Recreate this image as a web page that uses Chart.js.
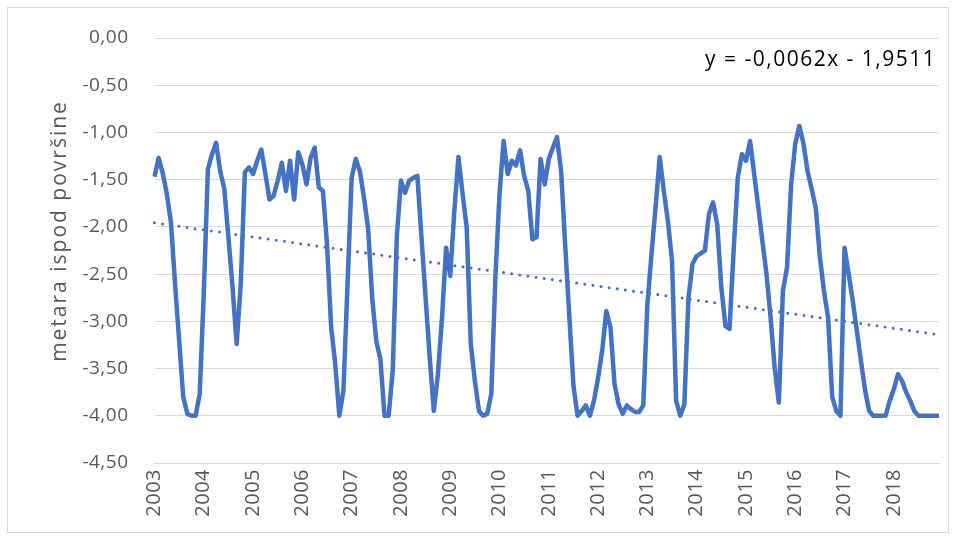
<!DOCTYPE html>
<html>
<head>
<meta charset="utf-8">
<script src="https://cdn.jsdelivr.net/npm/chart.js@4"></script>
<style>
  html, body { margin: 0; padding: 0; background: #fff; }
  canvas { display: block; }
</style>
</head>
<body>
<canvas id="chart" width="956" height="540"></canvas>
<script>
// Groundwater level, monthly readings 2003-2018 (metres below surface)
const years = ['2003', '2004', '2005', '2006', '2007', '2008', '2009', '2010',
  '2011', '2012', '2013', '2014', '2015', '2016', '2017', '2018'];

const levels = [
  -1.47, -1.27, -1.43, -1.65, -1.95, -2.60, -3.20, -3.80, -3.98, -4.00, -4.00, -3.77, // 2003
  -2.70, -1.39, -1.23, -1.11, -1.41, -1.60, -2.11, -2.64, -3.24, -2.60, -1.42, -1.37, // 2004
  -1.44, -1.30, -1.18, -1.44, -1.71, -1.67, -1.51, -1.32, -1.62, -1.30, -1.71, -1.21, // 2005
  -1.34, -1.55, -1.27, -1.16, -1.58, -1.62, -2.18, -3.06, -3.45, -4.00, -3.73, -2.60, // 2006
  -1.48, -1.28, -1.41, -1.69, -2.01, -2.75, -3.21, -3.40, -4.00, -4.00, -3.52, -2.10, // 2007
  -1.51, -1.64, -1.51, -1.48, -1.46, -2.11, -2.75, -3.38, -3.95, -3.56, -2.96, -2.22, // 2008
  -2.52, -1.83, -1.26, -1.65, -2.00, -3.24, -3.63, -3.95, -4.00, -3.98, -3.77, -2.53, // 2009
  -1.65, -1.09, -1.44, -1.30, -1.35, -1.19, -1.46, -1.62, -2.13, -2.11, -1.28, -1.55, // 2010
  -1.28, -1.16, -1.05, -1.41, -2.20, -2.95, -3.68, -4.00, -3.95, -3.89, -4.00, -3.84, // 2011
  -3.60, -3.31, -2.89, -3.06, -3.66, -3.88, -3.98, -3.89, -3.93, -3.96, -3.96, -3.89, // 2012
  -2.82, -2.29, -1.79, -1.26, -1.62, -1.94, -2.36, -3.84, -4.00, -3.88, -2.75, -2.39, // 2013
  -2.31, -2.28, -2.25, -1.86, -1.74, -1.97, -2.64, -3.05, -3.08, -2.25, -1.48, -1.23, // 2014
  -1.30, -1.09, -1.44, -1.79, -2.15, -2.50, -2.96, -3.50, -3.86, -2.68, -2.43, -1.55, // 2015
  -1.12, -0.93, -1.12, -1.41, -1.60, -1.80, -2.32, -2.68, -2.96, -3.80, -3.95, -4.00, // 2016
  -2.22, -2.50, -2.78, -3.10, -3.42, -3.73, -3.95, -4.00, -4.00, -4.00, -4.00, -3.84, // 2017
  -3.72, -3.56, -3.63, -3.75, -3.84, -3.95, -4.00, -4.00, -4.00, -4.00, -4.00, -4.00  // 2018
];

// linear trend y = a*x + b, x = 1..n
const trendSlope = -0.0062;
const trendIntercept = -1.9511;

const labels = [];
years.forEach(y => {
  for (let m = 1; m <= 12; m++) labels.push(y + '-' + String(m).padStart(2, '0'));
});
const trend = levels.map((_, i) => trendSlope * (i + 1) + trendIntercept);

const fmt = v => v.toFixed(2).replace('.', ',');
const textColor = '#595959';
const blue = '#4472C4';

// letter spacing for tick text, axis title, trend equation and chart border
const extras = {
  id: 'extras',
  beforeDraw(chart) {
    chart.ctx.letterSpacing = '0.5px';
  },
  afterDatasetsDraw(chart) {
    // x axis sits on a higher layer, so its labels are drawn after this
    chart.ctx.letterSpacing = '2.5px';
  },
  afterDraw(chart) {
    const ctx = chart.ctx;
    ctx.letterSpacing = '0px';
    ctx.save();
    ctx.strokeStyle = '#d9d9d9';
    ctx.lineWidth = 1;
    ctx.strokeRect(7.5, 7.5, 941, 525);

    ctx.fillStyle = textColor;
    ctx.font = '21px "Open Sans"';
    ctx.letterSpacing = '2px';
    ctx.textAlign = 'center';
    ctx.textBaseline = 'middle';
    ctx.translate(60, 231);
    ctx.rotate(-Math.PI / 2);
    ctx.fillText('metara ispod površine', 0, 0);
    ctx.restore();

    ctx.save();
    ctx.fillStyle = '#000';
    ctx.font = '21px "Open Sans"';
    ctx.letterSpacing = '1.5px';
    ctx.textAlign = 'left';
    ctx.textBaseline = 'middle';
    ctx.fillText('y = ' + trendSlope.toFixed(4).replace('.', ',') + 'x - ' +
      Math.abs(trendIntercept).toFixed(4).replace('.', ','), 705, 60);
    ctx.restore();
  }
};

new Chart(document.getElementById('chart'), {
  type: 'line',
  data: {
    labels: labels,
    datasets: [
      {
        data: levels,
        borderColor: blue,
        borderWidth: 4.5,
        borderJoinStyle: 'round',
        pointRadius: 0,
        tension: 0
      },
      {
        data: trend,
        borderColor: blue,
        borderWidth: 3,
        borderDash: [0, 8.2],
        borderCapStyle: 'round',
        pointRadius: 0,
        tension: 0
      }
    ]
  },
  options: {
    responsive: false,
    devicePixelRatio: 1,
    animation: false,
    layout: { padding: { left: 0, right: 17, top: 38, bottom: 0 } },
    plugins: {
      legend: { display: false },
      tooltip: { enabled: false }
    },
    scales: {
      x: {
        z: 1,
        offset: false,
        afterFit: s => { s.height = 77; },
        grid: { display: false, drawTicks: false },
        border: { display: true, color: '#d9d9d9', width: 1 },
        ticks: {
          autoSkip: false,
          minRotation: 90,
          maxRotation: 90,
          padding: 6,
          color: textColor,
          font: { family: 'Open Sans', size: 20 },
          callback: (v, i) => (i % 12 === 0 ? labels[i].slice(0, 4) : null)
        }
      },
      y: {
        min: -4.5,
        max: 0,
        afterFit: s => { s.width = 154.5; },
        grid: { color: '#d9d9d9', lineWidth: 1, drawTicks: false },
        border: { display: false },
        ticks: {
          stepSize: 0.5,
          padding: 26,
          color: textColor,
          font: { family: 'Open Sans', size: 19 },
          callback: v => fmt(v)
        }
      }
    }
  },
  plugins: [extras]
});
</script>
</body>
</html>
